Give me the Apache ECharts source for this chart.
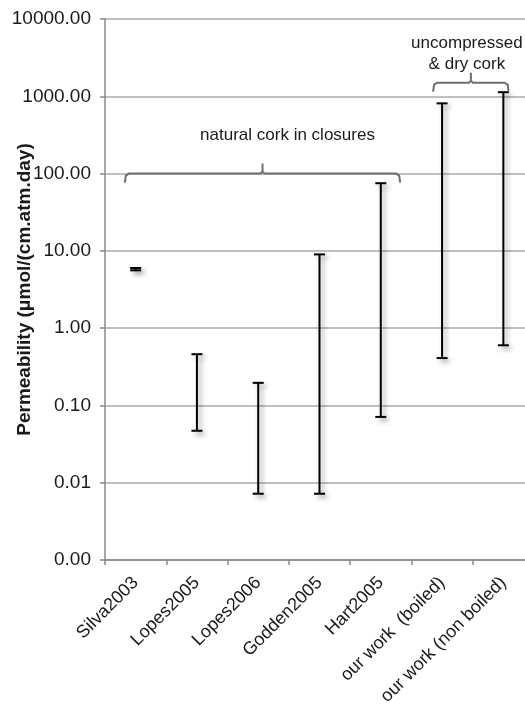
<!DOCTYPE html>
<html>
<head>
<meta charset="utf-8">
<script src="https://cdn.jsdelivr.net/npm/echarts@6/dist/echarts.min.js"></script>
<style>
  html, body { margin: 0; padding: 0; background: #fff; }
  #chart { width: 525px; height: 710px; }
</style>
</head>
<body>
<div id="chart"></div>
<script>
// Permeability ranges reported per study (µmol/(cm.atm.day))
const categories = ['Silva2003', 'Lopes2005', 'Lopes2006', 'Godden2005', 'Hart2005', 'our work  (boiled)', 'our work (non boiled)'];
const lowValues  = [5.6, 0.047, 0.0072, 0.0072, 0.071, 0.41, 0.60];
const highValues = [6.0, 0.46, 0.196, 9.0, 75, 810, 1130];

// Group annotations: bracket spans in category units and the value level of the bracket
const groupLabels = ['natural cork in closures', 'uncompressed\n& dry cork'];
const groupStart  = [-0.16, 4.87];
const groupEnd    = [4.30, 6.07];
const groupLevel  = [100, 1500];

const FONT = '"Liberation Sans", Arial, sans-serif';

const rangeData = categories.map((c, i) => [i, lowValues[i], highValues[i]]);

const chart = echarts.init(document.getElementById('chart'), null, { renderer: 'canvas' });

chart.setOption({
  animation: false,
  backgroundColor: '#ffffff',
  grid: { left: 105, right: -9, top: 19, bottom: 150, containLabel: false, outerBoundsMode: 'none' },
  xAxis: {
    type: 'category',
    data: categories,
    axisLine: { lineStyle: { color: '#888', width: 1.5 } },
    axisTick: { show: true, length: 5, lineStyle: { color: '#888', width: 1.5 } },
    axisLabel: {
      rotate: 45, margin: 20, color: '#1a1a1a',
      fontFamily: FONT, fontSize: 18, interval: 0
    },
    splitLine: { show: false }
  },
  yAxis: {
    type: 'log',
    logBase: 10,
    min: 0.001,
    max: 10000,
    splitNumber: 7,
    name: 'Permeability (μmol/(cm.atm.day)',
    nameLocation: 'middle',
    nameGap: 71,
    nameMoveOverlap: false,
    nameTextStyle: { fontFamily: FONT, fontSize: 19, fontWeight: 'bold', color: '#1a1a1a' },
    axisLine: { show: true, lineStyle: { color: '#888', width: 1.5 } },
    axisTick: { show: true, length: 5, lineStyle: { color: '#888', width: 1.5 } },
    axisLabel: {
      margin: 14, color: '#1a1a1a', fontFamily: FONT, fontSize: 19,
      formatter: v => Number(v).toFixed(2)
    },
    splitLine: { show: true, lineStyle: { color: '#aaa', width: 1.5 } }
  },
  series: [{
    type: 'custom',
    data: rangeData,
    encode: { x: 0, y: [1, 2] },
    renderItem: function (params, api) {
      const x = api.value(0);
      const lo = api.coord([x, api.value(1)]);
      const hi = api.coord([x, api.value(2)]);
      const half = 5.5;
      const style = {
        stroke: '#000', lineWidth: 2, fill: null,
        shadowColor: 'rgba(0,0,0,0.38)', shadowBlur: 5, shadowOffsetX: 3, shadowOffsetY: 3
      };
      return {
        type: 'group',
        children: [
          { type: 'line', shape: { x1: hi[0], y1: hi[1], x2: lo[0], y2: lo[1] }, style: style },
          { type: 'line', shape: { x1: hi[0] - half, y1: hi[1], x2: hi[0] + half, y2: hi[1] }, style: style },
          { type: 'line', shape: { x1: lo[0] - half, y1: lo[1], x2: lo[0] + half, y2: lo[1] }, style: style }
        ]
      };
    },
    z: 5
  }]
});

// Brackets over each group, placed through the axes' own pixel conversion
function drawBrackets() {
  const p0 = chart.convertToPixel({ gridIndex: 0 }, [0, 1]);
  const p1 = chart.convertToPixel({ gridIndex: 0 }, [1, 1]);
  const band = p1[0] - p0[0];
  const xAt = f => p0[0] + f * band;
  const elements = [];
  groupLabels.forEach((label, i) => {
    const y = chart.convertToPixel({ gridIndex: 0 }, [0, groupLevel[i]])[1];
    const xa = xAt(groupStart[i]);
    const xb = xAt(groupEnd[i]);
    const xm = (xa + xb) / 2;
    elements.push({
      type: 'polyline',
      shape: {
        points: [
          [xa - 1, y + 9], [xa, y + 2], [xa + 3, y],
          [xm - 2, y], [xm, y - 2], [xm, y - 10], [xm, y - 2], [xm + 2, y],
          [xb - 3, y], [xb, y + 2], [xb + 1, y + 9]
        ]
      },
      style: { stroke: '#6e6e6e', lineWidth: 2, fill: null },
      z: 10
    });
    elements.push({
      type: 'text',
      x: i === 0 ? xm + 25 : xm - 4,
      y: i === 0 ? y - 28 : y - 8,
      style: {
        text: label, fill: '#1a1a1a', font: '17px ' + FONT,
        align: 'center', verticalAlign: 'bottom', lineHeight: 21
      },
      z: 10
    });
  });
  chart.setOption({ graphic: { elements: elements } });
}
drawBrackets();
</script>
</body>
</html>
